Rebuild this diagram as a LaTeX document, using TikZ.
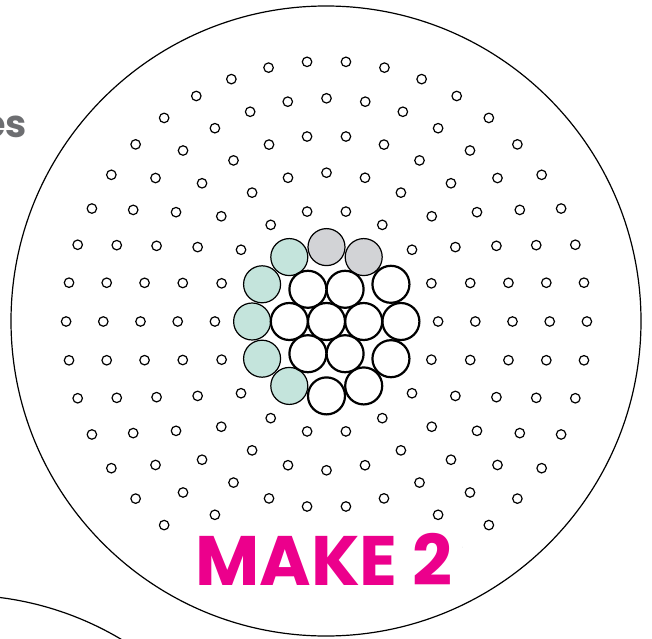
\documentclass[tikz,border=0pt]{standalone}
\usepackage{fontspec}
\setmainfont{Poppins}
\usepackage{tikz}
\definecolor{beadTeal}{RGB}{196,228,220}
\definecolor{beadGrey}{RGB}{210,211,214}
\definecolor{makePink}{RGB}{236,0,140}
\definecolor{titleGrey}{RGB}{109,110,113}

\begin{document}
\begin{tikzpicture}[x=1pt, y=1pt]
\tikzstyle{board}=[circle, draw, line width=1.2pt, minimum size=630pt, inner sep=0pt]
\tikzstyle{peg}=[circle, draw, line width=1.2pt, minimum size=9.5pt, inner sep=0pt]
\tikzstyle{bead}=[circle, draw, inner sep=0pt, minimum size=37pt]
\tikzstyle{wb}=[bead, line width=2.2pt, fill=white]
\tikzstyle{tb}=[bead, line width=1.2pt, fill=beadTeal]
\tikzstyle{gb}=[bead, line width=1.2pt, fill=beadGrey]
\useasboundingbox (0,0) rectangle (652,638);
% pegboards
\node[board] (board) at (326,317) {};
\node[board] (nextboard) at (-40,-272) {};
\begin{scope}[shift={(326.5,316.5)}]
% small pegs, ring r holds 6r pegs
\foreach \r in {3,...,7}{
  \pgfmathtruncatemacro{\n}{6*\r}
  \foreach \i in {1,...,\n}{
    \node[peg] (p\r-\i) at (\i*360/\n:37.2*\r) {};
  }
}
% outer ring of beads
\foreach \a/\s in {60/gb,90/gb,120/tb,150/tb,180/tb,210/tb,240/tb,270/wb,300/wb,330/wb,0/wb,30/wb}{
  \node[\s] (b2-\a) at (\a:74.4) {};
}
% inner ring and centre
\foreach \a in {0,60,...,300}{
  \node[wb] (b1-\a) at (\a:37.2) {};
}
\node[wb] (b0) at (0,0) {};
\end{scope}
\node[font=\fontsize{70}{70}\selectfont\bfseries, text=makePink, fill=white, anchor=base,
  inner sep=0pt, inner xsep=9pt, text height=64pt, text depth=10pt] (make) at (324,53) {MAKE 2};
\node[font=\fontsize{38}{38}\selectfont\bfseries, text=titleGrey, anchor=base east, inner sep=0pt] (title) at (27,500) {es};
\end{tikzpicture}
\end{document}
